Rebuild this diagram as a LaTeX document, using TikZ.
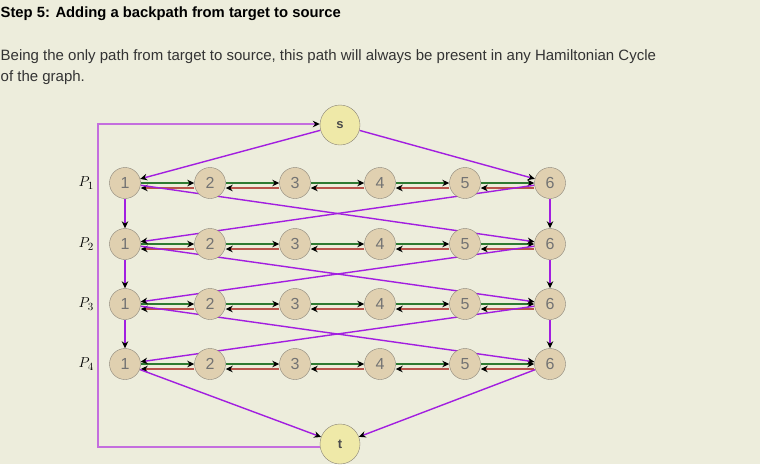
\documentclass[tikz,border=0pt]{standalone}
\usepackage{fontspec}
\setmainfont{Liberation Sans}
\usetikzlibrary{arrows.meta,positioning}
\definecolor{paper}{HTML}{EDEDDC}
\definecolor{vfill}{HTML}{E0D0B0}
\definecolor{endfill}{HTML}{EFE9A8}
\definecolor{vline}{HTML}{8A8478}
\definecolor{pathpurple}{HTML}{A21EE0}
\definecolor{backpurple}{HTML}{C46EDE}
\definecolor{fwdgreen}{HTML}{2F7A32}
\definecolor{revred}{HTML}{B9554C}
\pgfdeclarelayer{paperlayer}
\pgfdeclarelayer{edgelayer}
\pgfsetlayers{paperlayer,edgelayer,main}
\tikzset{
  vertex/.style={draw=vline, fill=vfill, circle, minimum size=31pt, inner sep=0pt,
    text=black!55, font=\fontsize{16}{16}\selectfont},
  endpoint/.style={vertex, fill=endfill, minimum size=40pt, text=black!70,
    font=\bfseries\fontsize{13}{13}\selectfont},
  tip/.style={-{Stealth[black,length=7pt,width=6.5pt]}},
  jump/.style={tip, draw=pathpurple, line width=1.4pt},
  fwd/.style={tip, draw=fwdgreen, line width=1.8pt},
  rev/.style={tip, draw=revred, line width=1.8pt},
}
\begin{document}
\begin{tikzpicture}[x=1pt, y=-1pt]
  \begin{pgfonlayer}{paperlayer}
    \fill[paper] (0,0) rectangle (760,464);
  \end{pgfonlayer}
  \useasboundingbox (0,0) rectangle (760,464);

  % heading and explanation
  \node[anchor=base west, inner sep=0pt, font=\bfseries\fontsize{14.8}{17}\selectfont] (head) at (0.5,17) {Step 5: Adding a backpath from target to source};
  \node[anchor=base west, inner sep=0pt, text=black!80, font=\fontsize{15}{17}\selectfont] (line1) at (0.5,60) {Being the only path from target to source, this path will always be present in any Hamiltonian Cycle};
  \node[anchor=base west, inner sep=0pt, text=black!80, font=\fontsize{15}{17}\selectfont] (line2) at (0.5,81) {of the graph.};

  % source and target
  \node[endpoint] (s) at (340,125) {s};
  \node[endpoint] (t) at (340,444) {t};

  % the four rows of vertices
  \foreach \r/\y in {1/183,2/244,3/304,4/364} {
    \foreach \c in {1,...,6} {
      \node[vertex] (p\r-\c) at ({40+85*\c},\y) {\c};
    }
    \node[left=12pt of p\r-1, font=\fontsize{15}{15}\selectfont] (lab\r) {$P_{\r}$};
  }

  \begin{pgfonlayer}{edgelayer}
    % forward and backward edges inside a row
    \foreach \r in {1,...,4} {
      \foreach \c in {1,...,5} {
        \pgfmathtruncatemacro{\d}{\c+1}
        \draw[fwd] (p\r-\c.east) -- (p\r-\d.west);
        \draw[rev] ([yshift=-5pt]p\r-\d.west) -- ([yshift=-5pt]p\r-\c.east);
      }
    }
    % links between rows
    \draw[jump] (s) -- (p1-1);
    \draw[jump] (s) -- (p1-6);
    \foreach \r in {1,2,3} {
      \pgfmathtruncatemacro{\n}{\r+1}
      \draw[jump] (p\r-1) -- (p\n-1);
      \draw[jump] (p\r-6) -- (p\n-6);
      \draw[jump] (p\r-1) -- (p\n-6);
      \draw[jump] (p\r-6) -- (p\n-1);
    }
    \draw[jump] (p4-1) -- (t);
    \draw[jump] (p4-6) -- (t);
    % backpath from t to s
    \coordinate (backlow) at (98,447);
    \coordinate (backtop) at (98,124);
    \draw[tip, draw=backpurple, line width=1.8pt] ([yshift=-3pt]t.west) -- (backlow) -- (backtop) -- ([yshift=1pt]s.west);
  \end{pgfonlayer}
\end{tikzpicture}
\end{document}
